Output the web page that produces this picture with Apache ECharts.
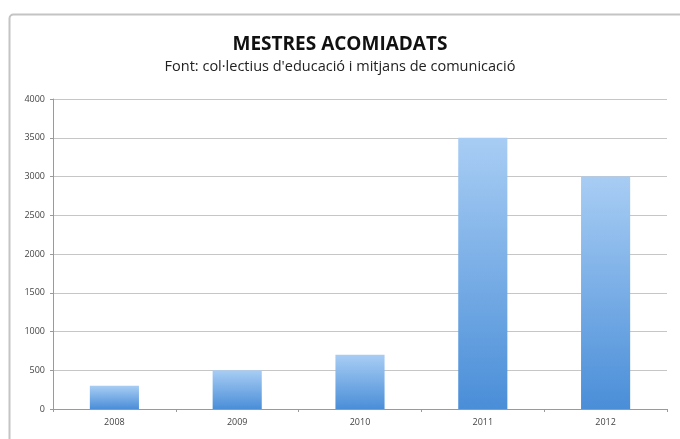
<!DOCTYPE html>
<html>
<head>
<meta charset="utf-8">
<script src="https://cdn.jsdelivr.net/npm/echarts@6/dist/echarts.min.js"></script>
<style>
    html, body { margin: 0; padding: 0; background: #fff; }
    #chart { width: 680px; height: 439px; }
</style>
</head>
<body>
<div id="chart"></div>
<script>
const years = ['2008', '2009', '2010', '2011', '2012'];
const teachersDismissed = [300, 500, 700, 3500, 3000];
const yTicks = [0, 500, 1000, 1500, 2000, 2500, 3000, 3500, 4000];

const chart = echarts.init(document.getElementById('chart'));

const AXIS_LINE = {
    show: true,
    lineStyle: { color: '#9a9a9a', width: 1 }
};

chart.setOption({
    backgroundColor: '#fff',
    animation: false,
    graphic: [
        {
            type: 'rect',
            left: 7,
            top: 12,
            shape: { width: 690, height: 440, r: 4 },
            style: { fill: 'none', stroke: '#c4c4c4', lineWidth: 2 },
            silent: true
        }
    ],
    title: {
        text: 'MESTRES ACOMIADATS',
        subtext: "Font: col·lectius d'educació i mitjans de comunicació",
        left: 'center',
        top: 30,
        itemGap: 5,
        textStyle: {
            fontFamily: 'Open Sans',
            fontSize: 19,
            fontWeight: 'bold',
            color: '#111'
        },
        subtextStyle: {
            fontFamily: 'Open Sans',
            fontSize: 14.5,
            color: '#222'
        }
    },
    grid: {
        left: 53,
        right: 13,
        top: 99,
        bottom: 30
    },
    xAxis: {
        type: 'category',
        data: years,
        axisLine: AXIS_LINE,
        axisTick: { show: true, length: 3, lineStyle: { color: '#9a9a9a' } },
        axisLabel: {
            color: '#444',
            fontSize: 9,
            fontFamily: 'Open Sans',
            margin: 9
        }
    },
    yAxis: {
        type: 'value',
        min: yTicks[0],
        max: yTicks[yTicks.length - 1],
        interval: 500,
        axisLine: AXIS_LINE,
        axisTick: { show: true, length: 3, lineStyle: { color: '#9a9a9a' } },
        axisLabel: {
            color: '#444',
            fontSize: 9,
            fontFamily: 'Open Sans',
            margin: 8,
            formatter: value => String(value)
        },
        splitLine: {
            show: true,
            lineStyle: { color: '#c6c6c6', width: 1 }
        }
    },
    series: [
        {
            type: 'bar',
            data: teachersDismissed,
            barWidth: '40%',
            itemStyle: {
                color: new echarts.graphic.LinearGradient(0, 0, 0, 1, [
                    { offset: 0, color: '#a8cdf4' },
                    { offset: 1, color: '#4a8ed8' }
                ])
            }
        }
    ]
});
</script>
</body>
</html>
